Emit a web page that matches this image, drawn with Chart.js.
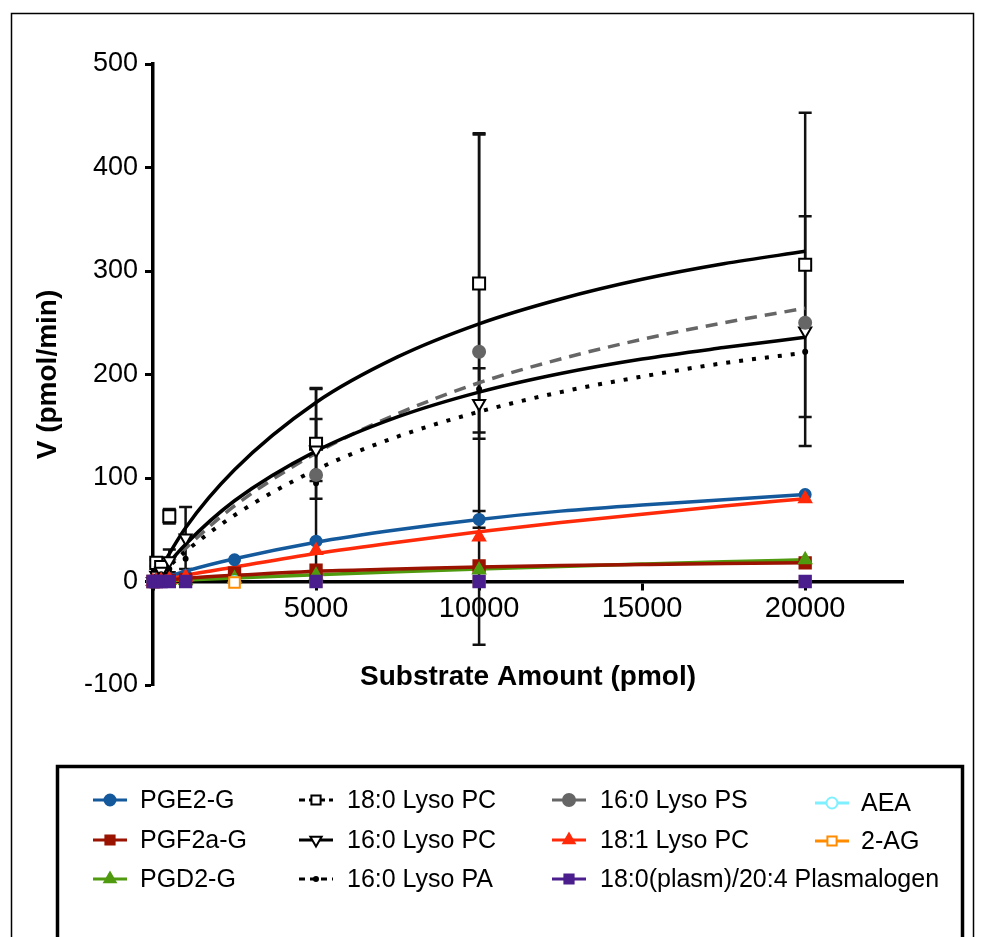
<!DOCTYPE html>
<html>
<head>
<meta charset="utf-8">
<script src="https://cdn.jsdelivr.net/npm/chart.js@4.4.0/dist/chart.umd.min.js"></script>
<style>
  html, body { margin: 0; padding: 0; background: #fff; }
  canvas { display: block; }
</style>
</head>
<body>
<canvas id="kinetics" width="986" height="937"></canvas>
<script>
// substrate amounts (pmol) of the measured points
const substrate = [0, 100, 250, 500, 1000, 2500, 5000, 10000, 20000];

// measured V (pmol/min), null where no point is plotted
const pge2g      = [0, 1, 2, 3, 6, 21, 39, 60, 84];
const pgf2ag     = [0, 0, 1, 1, 2, 8, 11, 15, 18];
const pgd2g      = [0, 0, 0, 1, 1, 3, 6, 11, 21];
const lysoPC180  = [null, 18, 14, 63, null, null, 133, 288, 306];
const lysoPC160  = [0, 6, 10, 20, 42, null, 127, 172, 242];
const lysoPA160  = [0, 5, 7, 12, 22, null, 95, 186, 222];
const lysoPS160  = [0, null, null, null, null, null, 103, 222, 250];
const lysoPC181  = [0, 0, 1, 2, 4, null, 30, 43, 80];
const plasmalogen = [0, 0, 0, 0, 0, null, 0, 0, 0];
const aea        = [0, 0, 0, 0, 0, 0, 0, 0, 0];
const twoAG      = [0, 0, 0, 0, 0, -1, 0, 0, 0];

// error bars (+/-), same positions as substrate
const pge2gErr     = [0, 0, 0, 0, 0, 0, 0, 8, 0];
const lysoPC180Err = [0, 3, 3, 7, 0, 0, 53, 144, 147];
const lysoPC160Err = [0, 0, 0, 11, 30, 0, 30, 34, 111];
const lysoPA160Err = [0, 0, 0, 0, 0, 0, 92, 247, 0];

// fitted curves
const fitX         = [0, 1000, 2500, 5000, 7500, 10000, 12500, 15000, 17500, 20000];
const fitPge2g     = [0, 10, 22, 38, 50, 60, 68, 74, 79, 84];
const fitPgf2ag    = [0, 3, 6, 10, 12, 14, 15.4, 16.4, 17.3, 18];
const fitPgd2g     = [0, 1.4, 3.4, 6.5, 9.3, 12, 14.5, 16.8, 19, 21];
const fitLysoPC180 = [0, 52, 108, 173, 217, 249, 273, 292, 307, 319];
const fitLysoPC160 = [0, 36, 78, 126, 159, 183, 201, 215, 226, 236];
const fitLysoPS160 = [0, 32, 73, 124, 162, 192, 215, 234, 250, 264];
const fitLysoPA160 = [0, 29, 64, 108, 140, 164, 183, 198, 211, 221];
const fitLysoPC181 = [0, 6, 14, 27, 38, 48, 57, 65, 73, 80];

// x axis tick values
const xTicks = [0, 5000, 10000, 15000, 20000];

const series = [
  { name: 'PGE2-G', values: pge2g, err: pge2gErr, fit: fitPge2g, color: '#14599c', style: 'circle', radius: 5.5, fill: '#14599c' },
  { name: 'PGF2a-G', values: pgf2ag, fit: fitPgf2ag, color: '#9a1200', style: 'rect', radius: 8, fill: '#9a1200' },
  { name: 'PGD2-G', values: pgd2g, fit: fitPgd2g, color: '#4f9a0e', style: 'triangle', radius: 7, fill: '#4f9a0e' },
  { name: '18:0 Lyso PC', values: lysoPC180, err: lysoPC180Err, fit: fitLysoPC180, color: '#000', style: 'rect', radius: 8.5, fill: '#fff', legendDash: [6, 4] },
  { name: '16:0 Lyso PC', values: lysoPC160, err: lysoPC160Err, fit: fitLysoPC160, color: '#000', style: 'triangle', rotation: 180, radius: 7, fill: '#fff' },
  { name: '16:0 Lyso PA', values: lysoPA160, err: lysoPA160Err, fit: fitLysoPA160, color: '#000', style: 'circle', radius: 2, fill: '#000', dash: [4, 9], legendDash: [6, 5], width: 4 },
  { name: '16:0 Lyso PS', values: lysoPS160, fit: fitLysoPS160, color: '#666', style: 'circle', radius: 6, fill: '#666', dash: [12, 8] },
  { name: '18:1 Lyso PC', values: lysoPC181, fit: fitLysoPC181, color: '#ff2a0a', style: 'triangle', radius: 7, fill: '#ff2a0a' },
  { name: '18:0(plasm)/20:4 Plasmalogen', values: plasmalogen, color: '#4a1e8c', style: 'rect', radius: 8, fill: '#4a1e8c', top: true },
  { name: 'AEA', values: aea, color: '#7ff0ff', style: 'circle', radius: 5.5, fill: '#fff' },
  { name: '2-AG', values: twoAG, color: '#ff8c00', style: 'rect', radius: 7.5, fill: '#fff' }
];

const toPoints = (xs, ys) => xs.map((x, i) => ({ x: x, y: ys[i] })).filter(p => p.y !== null);

const datasets = [];
series.forEach((s, i) => {
  if (s.fit) {
    datasets.push({
      label: s.name + ' fit',
      data: toPoints(fitX, s.fit),
      showLine: true,
      pointRadius: 0,
      borderColor: s.color,
      borderWidth: s.width || 3.5,
      borderDash: s.dash || [],
      cubicInterpolationMode: 'monotone',
      order: 20 + i
    });
  }
  const pts = [];
  const errs = [];
  s.values.forEach((v, j) => {
    if (v !== null) { pts.push({ x: substrate[j], y: v }); errs.push(s.err ? s.err[j] : 0); }
  });
  datasets.push({
    label: s.name,
    data: pts,
    errors: errs,
    showLine: false,
    pointStyle: s.style,
    rotation: s.rotation || 0,
    pointRadius: s.radius,
    pointBorderWidth: 2,
    pointBackgroundColor: s.fill,
    pointBorderColor: s.color,
    clip: false,
    order: s.top ? -1 : 10 - i
  });
});

// GraphPad-like frame around the figure and the legend box
const framePlugin = {
  id: 'frame',
  beforeDraw(chart) {
    const ctx = chart.ctx;
    ctx.save();
    ctx.fillStyle = '#fff';
    ctx.fillRect(0, 0, chart.width, chart.height);
    ctx.strokeStyle = '#000';
    ctx.lineWidth = 1.5;
    ctx.strokeRect(11.5, 13.5, 962, 940);
    ctx.lineWidth = 3.5;
    ctx.strokeRect(57.5, 766.5, 905, 200);
    ctx.restore();
  }
};

// vertical error bars with caps
const errorBarPlugin = {
  id: 'errorBars',
  beforeDatasetsDraw(chart) {
    const ctx = chart.ctx;
    const xs = chart.scales.x, ys = chart.scales.y;
    ctx.save();
    ctx.strokeStyle = '#111';
    ctx.lineWidth = 2.5;
    chart.data.datasets.forEach(ds => {
      if (!ds.errors) return;
      ds.data.forEach((p, i) => {
        const e = ds.errors[i];
        if (!e) return;
        const px = xs.getPixelForValue(p.x);
        const top = ys.getPixelForValue(p.y + e);
        const bot = ys.getPixelForValue(p.y - e);
        ctx.beginPath();
        ctx.moveTo(px, top); ctx.lineTo(px, bot);
        ctx.moveTo(px - 6.5, top); ctx.lineTo(px + 6.5, top);
        ctx.moveTo(px - 6.5, bot); ctx.lineTo(px + 6.5, bot);
        ctx.stroke();
      });
    });
    ctx.restore();
  }
};

// legend laid out in columns like the original figure
const legendCols = [
  ['PGE2-G', 'PGF2a-G', 'PGD2-G'],
  ['18:0 Lyso PC', '16:0 Lyso PC', '16:0 Lyso PA'],
  ['16:0 Lyso PS', '18:1 Lyso PC', '18:0(plasm)/20:4 Plasmalogen'],
  ['AEA', '2-AG']
];
const legendPlugin = {
  id: 'columnLegend',
  afterDraw(chart) {
    const ctx = chart.ctx;
    const sampleX = [93, 299, 552, 815];
    const textX = [140, 347, 600, 861];
    const rowY = [[800, 840, 879], [800, 840, 879], [800, 840, 879], [803, 841]];
    ctx.save();
    ctx.font = '25px "Liberation Sans", Arial, sans-serif';
    ctx.textBaseline = 'middle';
    legendCols.forEach((col, c) => {
      col.forEach((name, r) => {
        const s = series.find(d => d.name === name);
        const y = rowY[c][r];
        const x0 = sampleX[c];
        ctx.strokeStyle = s.color;
        ctx.lineWidth = 3;
        ctx.setLineDash(s.legendDash || []);
        ctx.beginPath();
        ctx.moveTo(x0, y); ctx.lineTo(x0 + 34, y);
        ctx.stroke();
        ctx.setLineDash([]);
        ctx.fillStyle = s.fill;
        ctx.lineWidth = 2;
        Chart.helpers.drawPoint(ctx, {
          pointStyle: s.style, radius: Math.min(s.radius, 6.5), borderWidth: 2, rotation: s.rotation || 0
        }, x0 + 17, y);
        ctx.fillStyle = '#000';
        ctx.fillText(name, textX[c], y + 1);
      });
    });
    ctx.restore();
  }
};

const yTickFont = { family: '"Liberation Sans", Arial, sans-serif', size: 27 };
const xTickFont = { family: '"Liberation Sans", Arial, sans-serif', size: 29 };
const titleFont = { family: '"Liberation Sans", Arial, sans-serif', size: 28, weight: 'bold' };

new Chart(document.getElementById('kinetics'), {
  type: 'scatter',
  data: { datasets: datasets },
  options: {
    responsive: false,
    devicePixelRatio: 1,
    animation: false,
    layout: { padding: { left: 0, top: 64, right: 83, bottom: 252 } },
    plugins: { legend: { display: false }, tooltip: { enabled: false } },
    scales: {
      x: {
        type: 'linear',
        position: { y: 0 },
        min: 0,
        max: 23000,
        afterBuildTicks(scale) { scale.ticks = xTicks.map(v => ({ value: v })); },
        ticks: {
          color: '#000',
          font: xTickFont,
          padding: 3,
          maxRotation: 0,
          autoSkip: false,
          callback: v => (v === 0 ? '' : String(v))
        },
        grid: { drawOnChartArea: false, drawTicks: true, tickLength: 7, tickWidth: 3, tickColor: '#000' },
        border: { display: true, width: 3.5, color: '#000' },
        title: { display: true, text: 'Substrate Amount (pmol)', color: '#000', font: titleFont, padding: { top: 31, bottom: 0 } }
      },
      y: {
        type: 'linear',
        position: 'left',
        min: -100,
        max: 500,
        ticks: { stepSize: 100, color: '#000', font: yTickFont, padding: 7 },
        grid: { drawOnChartArea: false, drawTicks: true, tickLength: 8, tickWidth: 3, tickColor: '#000' },
        border: { display: true, width: 3.5, color: '#000' },
        title: { display: true, text: 'V (pmol/min)', color: '#000', font: titleFont, padding: { top: 31, bottom: 0 } },
        afterFit(scale) { scale.width = 153; }
      }
    }
  },
  plugins: [framePlugin, errorBarPlugin, legendPlugin]
});
</script>
</body>
</html>
